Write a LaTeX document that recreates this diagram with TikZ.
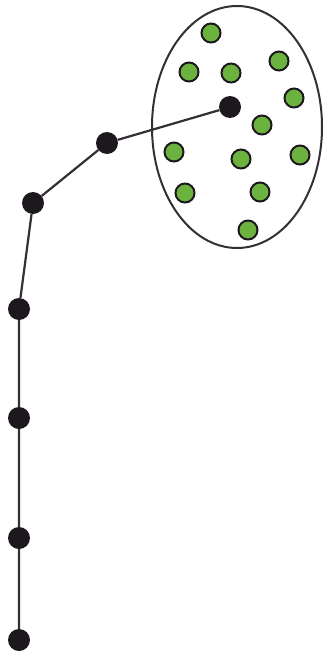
\documentclass[tikz,border=0pt]{standalone}
\definecolor{leafgreen}{RGB}{108,178,62}
\definecolor{darkdot}{RGB}{28,24,30}
\tikzset{
    pathdot/.style={circle, fill=darkdot, inner sep=0pt, minimum size=22pt},
    clusterdot/.style={circle, fill=leafgreen, draw=darkdot, line width=2pt, inner sep=0pt, minimum size=19pt},
    link/.style={line width=2.2pt, draw=darkdot!90}
}
\begin{document}
\begin{tikzpicture}[x=1pt, y=-1pt]
    \useasboundingbox (0,0) rectangle (324,653);

    % Cluster boundary
    \draw[line width=2pt, darkdot!90] (237,127) ellipse (85 and 121);

    % Green points inside the cluster
    \foreach \px/\py [count=\i] in {211/33, 189/72, 231/73, 279/61, 294/98, 262/125,
                                   174/152, 241/159, 300/155, 185/193, 260/192, 248/230}
        \node[clusterdot] (g\i) at (\px,\py) {};

    % Path of black points
    \node[pathdot] (p0) at (230,107) {};
    \node[pathdot] (p1) at (107,143) {};
    \node[pathdot] (p2) at (33,203) {};
    \node[pathdot] (p3) at (19,309) {};
    \node[pathdot] (p4) at (19,418) {};
    \node[pathdot] (p5) at (19,538) {};
    \node[pathdot] (p6) at (19,640) {};

    \draw[link] (p0) -- (p1) -- (p2) -- (p3) -- (p4) -- (p5) -- (p6);
\end{tikzpicture}
\end{document}
